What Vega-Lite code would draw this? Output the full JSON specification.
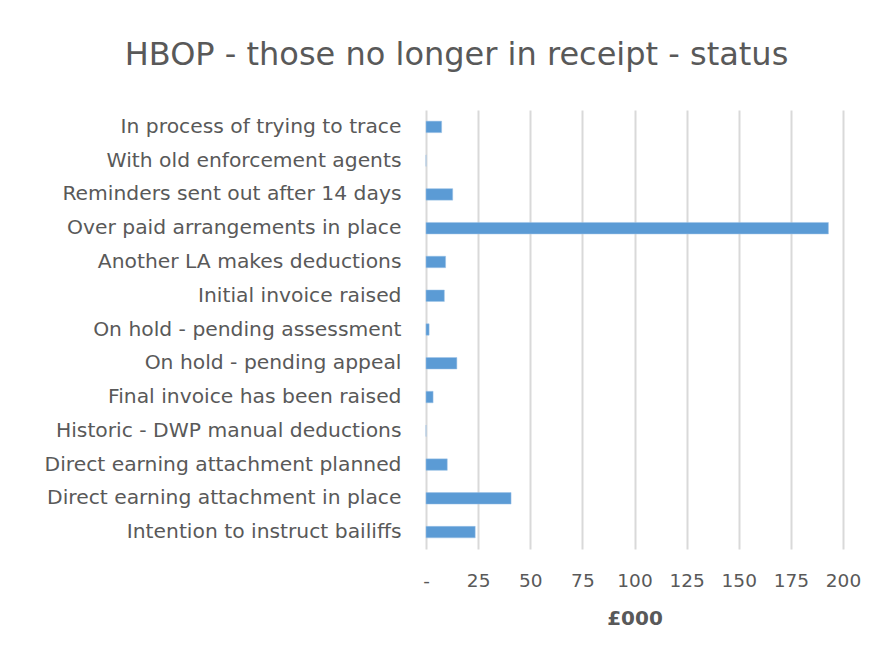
{
  "$schema": "https://vega.github.io/schema/vega-lite/v6.json",
  "autosize": "none",
  "width": 417,
  "height": 439,
  "padding": {"left": 426, "top": 110, "right": 46, "bottom": 111},
  "background": "white",
  "title": {
    "text": "HBOP - those no longer in receipt - status",
    "anchor": "middle",
    "frame": "group",
    "dx": -178,
    "offset": 38,
    "font": "DejaVu Sans",
    "fontSize": 32,
    "fontWeight": "normal",
    "color": "#595959"
  },
  "data": {
    "values": [
      {"status": "In process of trying to trace", "value": 7.5},
      {"status": "With old enforcement agents", "value": 0},
      {"status": "Reminders sent out after 14 days", "value": 12.8},
      {"status": "Over paid arrangements in place", "value": 193},
      {"status": "Another LA makes deductions", "value": 9.4},
      {"status": "Initial invoice raised", "value": 8.8},
      {"status": "On hold - pending assessment", "value": 1.5},
      {"status": "On hold - pending appeal", "value": 14.8},
      {"status": "Final invoice has been raised", "value": 3.4},
      {"status": "Historic - DWP manual deductions", "value": 0},
      {"status": "Direct earning attachment planned", "value": 10.2},
      {"status": "Direct earning attachment in place", "value": 40.8},
      {"status": "Intention to instruct bailiffs", "value": 23.6}
    ]
  },
  "mark": {"type": "bar", "color": "#5b9bd5", "stroke": "#9dc3e6", "strokeWidth": 0.5},
  "encoding": {
    "y": {
      "field": "status",
      "type": "nominal",
      "sort": null,
      "scale": {"paddingInner": 0.66, "paddingOuter": 0.33},
      "axis": {
        "title": null,
        "domain": false,
        "ticks": false,
        "labelPadding": 25,
        "labelFont": "DejaVu Sans",
        "labelFontSize": 20.3,
        "labelColor": "#595959",
        "labelLimit": 420
      }
    },
    "x": {
      "field": "value",
      "type": "quantitative",
      "scale": {"domain": [0, 200], "nice": false},
      "axis": {
        "values": [0, 25, 50, 75, 100, 125, 150, 175, 200],
        "labelExpr": "datum.value == 0 ? '-' : datum.label",
        "labelFlush": false,
        "labelOverlap": false,
        "title": "£000",
        "titleFont": "DejaVu Sans",
        "titleFontSize": 20,
        "titleFontWeight": "bold",
        "titleColor": "#595959",
        "titlePadding": 19,
        "domain": false,
        "ticks": false,
        "grid": true,
        "gridColor": "#d9d9d9",
        "gridWidth": 2,
        "labelPadding": 22,
        "labelFont": "DejaVu Sans",
        "labelFontSize": 18.5,
        "labelColor": "#595959"
      }
    }
  },
  "config": {"view": {"stroke": null}}
}
